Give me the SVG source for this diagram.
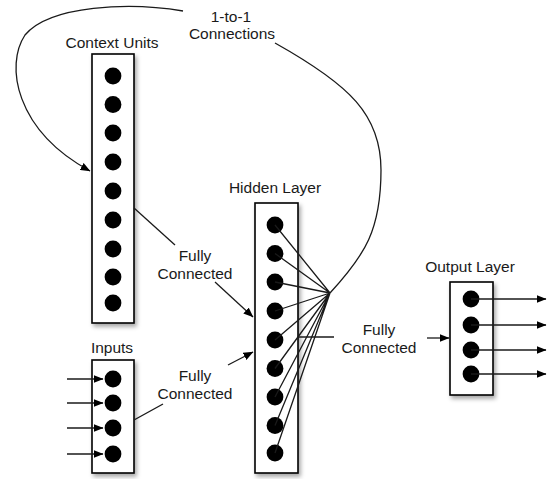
<svg xmlns="http://www.w3.org/2000/svg" width="547" height="479" viewBox="0 0 547 479">
  <style>
    .box { fill: #ffffff; stroke: #000000; stroke-width: 1.6; filter: url(#shadow); }
    .unit { fill: #000000; }
    .lbl { font-family: "Liberation Sans", Arial, Helvetica, sans-serif; font-size: 15.5px; fill: #1a1a1a; text-anchor: middle; }
    .wire { fill: none; stroke: #1a1a1a; stroke-width: 1.3; }
    .arrow { fill: none; stroke: #1a1a1a; stroke-width: 1.3; marker-end: url(#head); }
  </style>
  <defs>
    <filter id="shadow" x="-30%" y="-10%" width="170%" height="130%">
      <feDropShadow dx="2" dy="3" stdDeviation="2.2" flood-color="#000000" flood-opacity="0.35"/>
    </filter>
    <marker id="head" viewBox="0 0 10 8" refX="9.5" refY="4" markerWidth="10" markerHeight="8" markerUnits="userSpaceOnUse" orient="auto">
      <path d="M0,0 L10,4 L0,8 Z" fill="#000000"/>
    </marker>
  </defs>

  <!-- context units -->
  <g id="context-units">
    <text class="lbl" x="112" y="48">Context Units</text>
    <rect class="box" x="92" y="54" width="42" height="269"/>
    <circle class="unit" cx="113" cy="76" r="8.4"/>
    <circle class="unit" cx="113" cy="104.5" r="8.4"/>
    <circle class="unit" cx="113" cy="133" r="8.4"/>
    <circle class="unit" cx="113" cy="162" r="8.4"/>
    <circle class="unit" cx="113" cy="191" r="8.4"/>
    <circle class="unit" cx="113" cy="220" r="8.4"/>
    <circle class="unit" cx="113" cy="249" r="8.4"/>
    <circle class="unit" cx="113" cy="277" r="8.4"/>
    <circle class="unit" cx="113" cy="303" r="8.4"/>
  </g>

  <!-- input units -->
  <g id="inputs">
    <text class="lbl" x="112" y="353">Inputs</text>
    <rect class="box" x="92" y="360" width="42" height="113"/>
    <circle class="unit" cx="113" cy="379" r="8.4"/>
    <circle class="unit" cx="113" cy="403" r="8.4"/>
    <circle class="unit" cx="113" cy="428" r="8.4"/>
    <circle class="unit" cx="113" cy="454" r="8.4"/>
  </g>

  <!-- hidden layer -->
  <g id="hidden-layer">
    <text class="lbl" x="275" y="193">Hidden Layer</text>
    <rect class="box" x="255" y="203" width="43" height="270"/>
    <circle class="unit" cx="275" cy="225" r="8.4"/>
    <circle class="unit" cx="275" cy="253.5" r="8.4"/>
    <circle class="unit" cx="275" cy="282" r="8.4"/>
    <circle class="unit" cx="275" cy="311" r="8.4"/>
    <circle class="unit" cx="275" cy="340" r="8.4"/>
    <circle class="unit" cx="275" cy="368.5" r="8.4"/>
    <circle class="unit" cx="275" cy="397" r="8.4"/>
    <circle class="unit" cx="275" cy="425.5" r="8.4"/>
    <circle class="unit" cx="275" cy="453" r="8.4"/>
  </g>

  <!-- output layer -->
  <g id="output-layer">
    <text class="lbl" x="470" y="272">Output Layer</text>
    <rect class="box" x="450" y="282" width="43" height="113"/>
    <circle class="unit" cx="471" cy="299" r="8.4"/>
    <circle class="unit" cx="471" cy="325" r="8.4"/>
    <circle class="unit" cx="471" cy="350" r="8.4"/>
    <circle class="unit" cx="471" cy="374" r="8.4"/>
  </g>

  <!-- connection labels -->
  <g id="label-one-to-one">
    <text class="lbl" x="231" y="22">1-to-1</text>
    <text class="lbl" x="232" y="39">Connections</text>
  </g>
  <g id="label-context-hidden">
    <text class="lbl" x="195" y="261">Fully</text>
    <text class="lbl" x="195" y="279">Connected</text>
  </g>
  <g id="label-input-hidden">
    <text class="lbl" x="195" y="381">Fully</text>
    <text class="lbl" x="195" y="399">Connected</text>
  </g>
  <g id="label-hidden-output">
    <text class="lbl" x="379" y="335">Fully</text>
    <text class="lbl" x="379" y="353">Connected</text>
  </g>

  <g id="connectors">
    <!-- hidden units converge into one bundle -->
    <path class="wire" d="M275,225 L330,293 M275,253.5 L330,293 M275,282 L330,293 M275,311 L330,293 M275,340 L330,293 M275,368.5 L330,293 M275,397 L330,293 M275,425.5 L330,293 M275,453 L330,293"/>
    <!-- bundle back up to the copy label -->
    <path class="wire" d="M330,293 C365,255 381,230 381,170 C381,115 350,85 275,43"/>
    <!-- copy label down into the context units -->
    <path class="arrow" d="M183,11 C130,2 50,5 25,35 C5,65 15,130 90,171"/>

    <!-- context to hidden -->
    <path class="wire" d="M134,208 L175,245"/>
    <path class="arrow" d="M215,282 L253,317"/>
    <!-- inputs to hidden -->
    <path class="wire" d="M134,420 L163,404"/>
    <path class="arrow" d="M228,365 L253,352"/>
    <!-- hidden to output -->
    <path class="wire" d="M298,337 L334,337"/>
    <path class="arrow" d="M427,338 L449,338"/>

    <!-- external inputs -->
    <path class="arrow" d="M67,379 L103,379"/>
    <path class="arrow" d="M67,403 L103,403"/>
    <path class="arrow" d="M67,428 L103,428"/>
    <path class="arrow" d="M67,454 L103,454"/>

    <!-- outputs -->
    <path class="arrow" d="M471,299 L546,299"/>
    <path class="arrow" d="M471,325 L546,325"/>
    <path class="arrow" d="M471,350 L546,350"/>
    <path class="arrow" d="M471,374 L546,374"/>
  </g>
</svg>
